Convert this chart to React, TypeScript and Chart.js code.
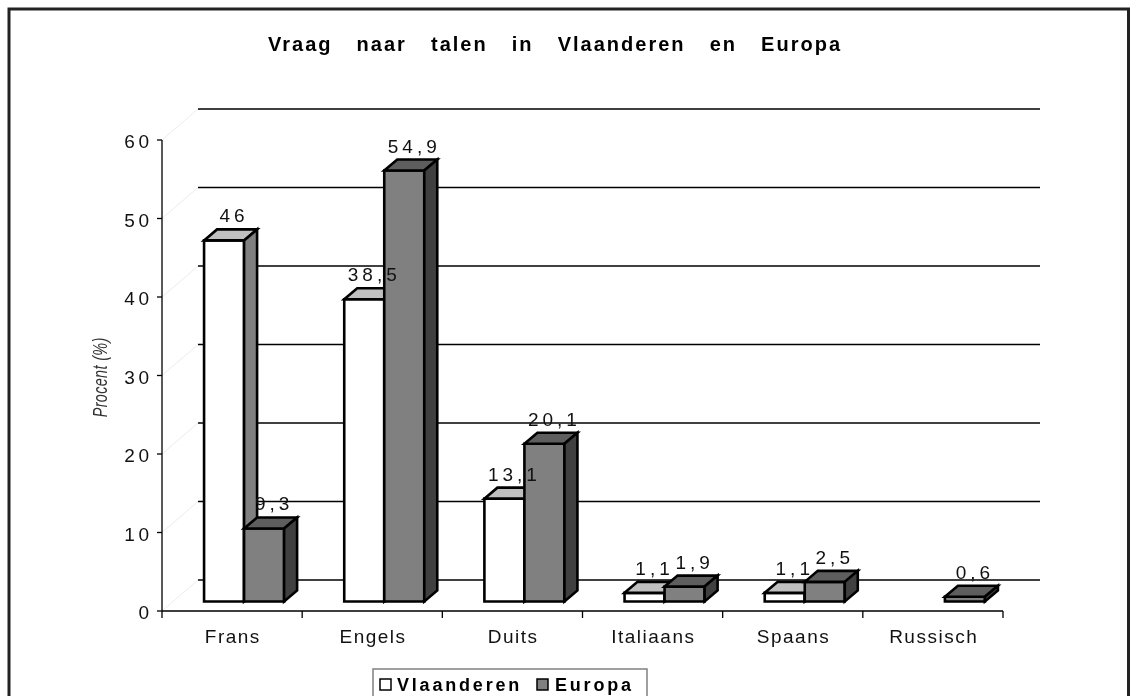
import React, { useEffect, useRef } from 'react';
import { Chart, registerables } from 'chart.js';

Chart.register(...registerables);

const title = 'Vraag naar talen in Vlaanderen en Europa';
const yAxisTitle = 'Procent (%)';
const categories = ['Frans', 'Engels', 'Duits', 'Italiaans', 'Spaans', 'Russisch'];
const vlaanderen: (number | null)[] = [46, 38.5, 13.1, 1.1, 1.1, null];
const europa: (number | null)[] = [9.3, 54.9, 20.1, 1.9, 2.5, 0.6];
const yTicks = [0, 10, 20, 30, 40, 50, 60];
const seriesNames = ['Vlaanderen', 'Europa'];

const FONT = '"Liberation Sans", Arial, Helvetica, sans-serif';

// 3D styling
const WALL_DX = 36;
const WALL_DY = -31;
const BAR_DX = 12;
const BAR_DY = -9.5;
const DEPTH_DX = 13;
const DEPTH_DY = -11;

const seriesColors = [
  { front: '#ffffff', top: '#c0c0c0', side: '#808080' },
  { front: '#808080', top: '#5e5e5e', side: '#404040' },
];

function fmt(v: number) {
  return String(v).replace('.', ',');
}

function spacedText(ctx: CanvasRenderingContext2D, text: string, x: number, y: number, align: CanvasTextAlign, spacing: number) {
  (ctx as any).letterSpacing = spacing + 'px';
  ctx.textAlign = align;
  let dx = 0;
  if (align === 'center') dx = spacing / 2;
  else if (align === 'right') dx = spacing;
  ctx.fillText(text, x + dx, y);
  (ctx as any).letterSpacing = '0px';
}

function drawBox(ctx: CanvasRenderingContext2D, x0: number, x1: number, yTop: number, yBot: number, c: { front: string; top: string; side: string }) {
  ctx.lineWidth = 2.6;
  ctx.strokeStyle = '#000000';
  ctx.lineJoin = 'miter';
  ctx.beginPath();
  ctx.rect(x0, yTop, x1 - x0, yBot - yTop);
  ctx.fillStyle = c.front;
  ctx.fill();
  ctx.stroke();
  ctx.beginPath();
  ctx.moveTo(x0, yTop);
  ctx.lineTo(x0 + DEPTH_DX, yTop + DEPTH_DY);
  ctx.lineTo(x1 + DEPTH_DX, yTop + DEPTH_DY);
  ctx.lineTo(x1, yTop);
  ctx.closePath();
  ctx.fillStyle = c.top;
  ctx.fill();
  ctx.stroke();
  ctx.beginPath();
  ctx.moveTo(x1, yTop);
  ctx.lineTo(x1 + DEPTH_DX, yTop + DEPTH_DY);
  ctx.lineTo(x1 + DEPTH_DX, yBot + DEPTH_DY);
  ctx.lineTo(x1, yBot);
  ctx.closePath();
  ctx.fillStyle = c.side;
  ctx.fill();
  ctx.stroke();
}

const plugin3d = {
  id: 'plugin3d',
  beforeDraw(chart: any) {
    const ctx = chart.ctx as CanvasRenderingContext2D;
    ctx.save();
    ctx.fillStyle = '#ffffff';
    ctx.fillRect(0, 0, chart.width, chart.height);
    ctx.restore();
  },
  beforeDatasetsDraw(chart: any) {
    const ctx = chart.ctx as CanvasRenderingContext2D;
    const { left, right } = chart.chartArea;
    const y = chart.scales.y;
    ctx.save();
    yTicks.forEach((t) => {
      const py = y.getPixelForValue(t);
      ctx.strokeStyle = '#ececec';
      ctx.lineWidth = 1;
      ctx.beginPath();
      ctx.moveTo(left, py);
      ctx.lineTo(left + WALL_DX, py + WALL_DY);
      ctx.stroke();
      ctx.strokeStyle = '#000000';
      ctx.lineWidth = 1.3;
      ctx.beginPath();
      ctx.moveTo(left + WALL_DX, py + WALL_DY);
      ctx.lineTo(right + WALL_DX + 1, py + WALL_DY);
      ctx.stroke();
    });
    ctx.restore();
  },
  afterDatasetsDraw(chart: any) {
    const ctx = chart.ctx as CanvasRenderingContext2D;
    const { left, right, top, bottom } = chart.chartArea;
    const xs = chart.scales.x;
    const ys = chart.scales.y;
    ctx.save();

    // axes
    ctx.strokeStyle = '#000000';
    ctx.lineWidth = 1.3;
    ctx.beginPath();
    ctx.moveTo(left, top);
    ctx.lineTo(left, bottom + 7);
    ctx.moveTo(left, bottom);
    ctx.lineTo(right, bottom);
    ctx.stroke();
    yTicks.forEach((t) => {
      const py = ys.getPixelForValue(t);
      ctx.beginPath();
      ctx.moveTo(left - 5, py);
      ctx.lineTo(left, py);
      ctx.stroke();
    });
    const catW = (right - left) / categories.length;
    for (let i = 1; i <= categories.length; i++) {
      const px = left + catW * i;
      ctx.beginPath();
      ctx.moveTo(px, bottom);
      ctx.lineTo(px, bottom + 7);
      ctx.stroke();
    }

    // bars
    const labels: { text: string; x: number; y: number }[] = [];
    for (let j = 0; j < categories.length; j++) {
      for (let d = 0; d < chart.data.datasets.length; d++) {
        const v = chart.data.datasets[d].data[j];
        if (v === null || v === undefined) continue;
        const el = chart.getDatasetMeta(d).data[j];
        const p = el.getProps(['x', 'y', 'base', 'width'], true);
        const x0 = p.x - p.width / 2 + BAR_DX;
        const x1 = p.x + p.width / 2 + BAR_DX;
        const yTop = p.y + BAR_DY;
        const yBot = p.base + BAR_DY;
        drawBox(ctx, x0, x1, yTop, yBot, seriesColors[d]);
        labels.push({ text: fmt(v), x: (x0 + x1) / 2 + 8, y: yTop - 18 });
      }
    }

    // data labels
    ctx.fillStyle = '#111111';
    ctx.font = `19px ${FONT}`;
    ctx.textBaseline = 'alphabetic';
    labels.forEach((l) => spacedText(ctx, l.text, l.x, l.y, 'center', 4));

    // y tick labels
    yTicks.forEach((t) => {
      const py = ys.getPixelForValue(t);
      spacedText(ctx, String(t), left - 13, py + 8, 'right', 3.5);
    });

    // x category labels
    categories.forEach((c, i) => {
      const px = xs.getPixelForValue(i);
      spacedText(ctx, c, px, bottom + 32, 'center', 1.5);
    });

    // y axis title
    ctx.save();
    ctx.translate(101, (top + bottom) / 2 + 2);
    ctx.rotate(-Math.PI / 2);
    ctx.scale(0.72, 1);
    ctx.font = `italic 20px ${FONT}`;
    ctx.fillStyle = '#333333';
    ctx.textBaseline = 'middle';
    spacedText(ctx, yAxisTitle, 0, 0, 'center', 0.5);
    ctx.restore();

    // title
    ctx.font = `bold 20px ${FONT}`;
    ctx.fillStyle = '#000000';
    (ctx as any).letterSpacing = '2px';
    const words = title.split(' ');
    const widths = words.map((w) => ctx.measureText(w).width - 2);
    const titleLeft = 268;
    const titleRight = 840;
    const sum = widths.reduce((a, b) => a + b, 0);
    const gap = (titleRight - titleLeft - sum) / (words.length - 1);
    let tx = titleLeft;
    ctx.textAlign = 'left';
    words.forEach((w, i) => {
      ctx.fillText(w, tx, 51);
      tx += widths[i] + gap;
    });
    (ctx as any).letterSpacing = '0px';

    // legend
    ctx.lineWidth = 1.5;
    ctx.strokeStyle = '#808080';
    ctx.strokeRect(373, 669, 274, 28);
    ctx.font = `bold 18px ${FONT}`;
    const legendItems = [
      { sq: 380, tx: 397 },
      { sq: 537, tx: 555 },
    ];
    seriesNames.forEach((n, i) => {
      const it = legendItems[i];
      ctx.fillStyle = seriesColors[i].front;
      ctx.fillRect(it.sq, 679, 11, 11);
      ctx.strokeStyle = '#000000';
      ctx.lineWidth = 1.5;
      ctx.strokeRect(it.sq, 679, 11, 11);
      ctx.fillStyle = '#000000';
      spacedText(ctx, n, it.tx, 691, 'left', 2.8);
    });

    // outer frame
    ctx.strokeStyle = '#222222';
    ctx.lineWidth = 3;
    ctx.strokeRect(9, 9, 1119.5, 700);

    ctx.restore();
  },
};

export default function App() {
  const ref = useRef<HTMLCanvasElement | null>(null);
  useEffect(() => {
    if (!ref.current) return;
    const chart = new Chart(ref.current, {
      type: 'bar',
      data: {
        labels: categories,
        datasets: [
          { label: seriesNames[0], data: vlaanderen, backgroundColor: 'rgba(0,0,0,0)', borderWidth: 0 },
          { label: seriesNames[1], data: europa, backgroundColor: 'rgba(0,0,0,0)', borderWidth: 0 },
        ],
      },
      options: {
        responsive: false,
        devicePixelRatio: 1,
        animation: false,
        layout: { padding: { left: 162, right: 135, top: 140, bottom: 85 } },
        datasets: { bar: { categoryPercentage: 0.571, barPercentage: 1 } },
        scales: {
          x: { display: false, offset: true },
          y: { display: false, min: 0, max: 60, ticks: { stepSize: 10 } },
        },
        plugins: { legend: { display: false }, title: { display: false }, tooltip: { enabled: false } },
        events: [],
      } as any,
      plugins: [plugin3d as any],
    });
    return () => chart.destroy();
  }, []);
  return (
    <div style={{ position: 'fixed', left: 0, top: 0, width: 1138, height: 696, background: '#fff' }}>
      <canvas ref={ref} width={1138} height={696} style={{ display: 'block', width: 1138, height: 696 }} />
    </div>
  );
}
